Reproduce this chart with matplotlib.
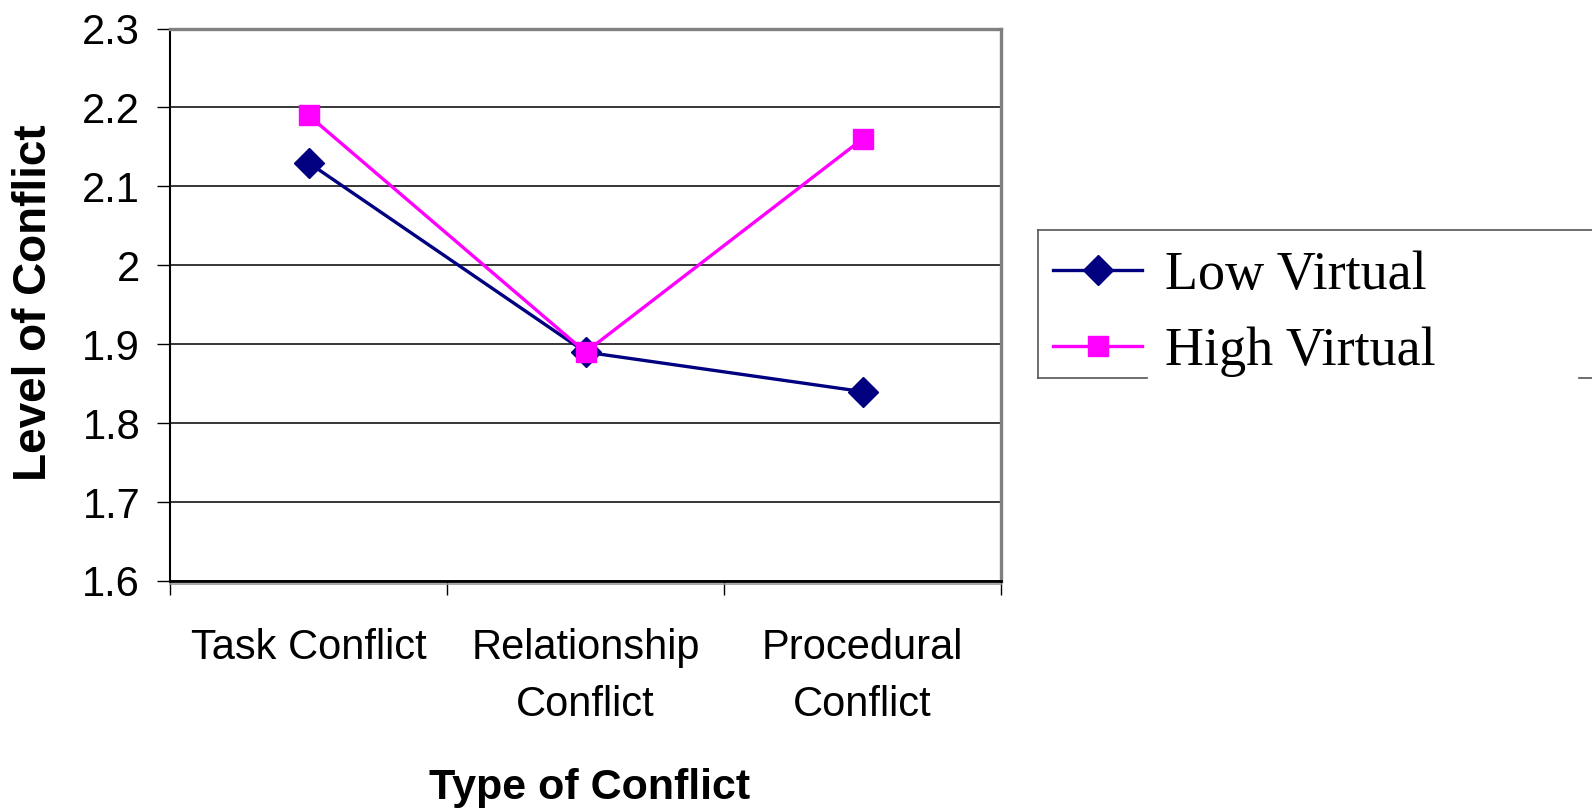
import matplotlib.pyplot as plt
from matplotlib.lines import Line2D
import numpy as np

# values
categories = ['Task Conflict', 'Relationship\nConflict', 'Procedural\nConflict']
low_virtual = [2.13, 1.89, 1.84]
high_virtual = [2.19, 1.89, 2.16]
y_ticks = [1.6, 1.7, 1.8, 1.9, 2.0, 2.1, 2.2, 2.3]
y_tick_labels = ['1.6', '1.7', '1.8', '1.9', '2', '2.1', '2.2', '2.3']

W, H = 1592, 810
fig = plt.figure(figsize=(W / 100, H / 100), dpi=100)
ax = fig.add_axes([170 / W, 1 - 581 / H, 831 / W, 552.5 / H])

x = np.arange(len(categories))
ax.plot(x, low_virtual, color='#000080', lw=2.4, marker='D', ms=15.5,
        label='Low Virtual', zorder=3)
ax.plot(x, high_virtual, color='#FF00FF', lw=2.4, marker='s', ms=14.5,
        label='High Virtual', zorder=4)

ax.set_xlim(-0.5, 2.5)
ax.set_ylim(1.6, 2.3)

# y axis
ax.set_yticks(y_ticks)
ax.set_yticklabels(y_tick_labels, fontsize=30, family='Liberation Sans')
ax.tick_params(axis='y', direction='out', length=9.5, width=1, pad=12)
ax.yaxis.grid(True, color='black', lw=1.1)
ax.set_axisbelow(True)

# x axis: ticks at category boundaries, labels centred on categories
ax.set_xticks([-0.5, 0.5, 1.5, 2.5])
ax.set_xticklabels([])
ax.tick_params(axis='x', which='major', direction='out', length=10, width=1)
ax.set_xticks(x, minor=True)
ax.set_xticklabels(categories, minor=True, fontsize=30, family='Liberation Sans')
ax.tick_params(axis='x', which='minor', length=0, pad=34)
for lab in ax.get_xticklabels(minor=True):
    lab.set_linespacing(1.55)

for side in ['top', 'right']:
    ax.spines[side].set_color('#808080')
    ax.spines[side].set_linewidth(2.4)
ax.spines['left'].set_linewidth(1.5)
ax.spines['bottom'].set_linewidth(2)
# grey shadow under the bottom axis line
fig.add_artist(Line2D([170 / W, 1001 / W], [1 - 583.5 / H] * 2,
                      color='#999999', lw=1.2, zorder=1))

fig.text(34 / W, 1 - 303 / H, 'Level of Conflict', rotation=90, ha='center',
         va='center', fontsize=33, fontweight='bold', family='Liberation Sans')
fig.text(590 / W, 1 - 788 / H, 'Type of Conflict', ha='center', va='center',
         fontsize=31, fontweight='bold', family='Liberation Sans')

# legend, with a box running off the right edge of the figure
fig.legend(loc='center left', bbox_to_anchor=(1053 / W, 1 - 314 / H),
           frameon=False, prop={'family': 'Liberation Serif', 'size': 39},
           handlelength=1.65, handletextpad=0.42, labelspacing=0.47,
           borderaxespad=0, borderpad=0)
box_l, box_t, box_b = 1038 / W, 1 - 229.5 / H, 1 - 377.5 / H
for xs, ys in [([box_l, 1.0], [box_t, box_t]),
               ([box_l, box_l], [box_t, box_b]),
               ([box_l, 1147 / W], [box_b, box_b]),
               ([1579 / W, 1.0], [box_b, box_b])]:
    fig.add_artist(Line2D(xs, ys, color='#555555', lw=1.2))

fig.savefig('out.png', dpi=100, facecolor='white')
